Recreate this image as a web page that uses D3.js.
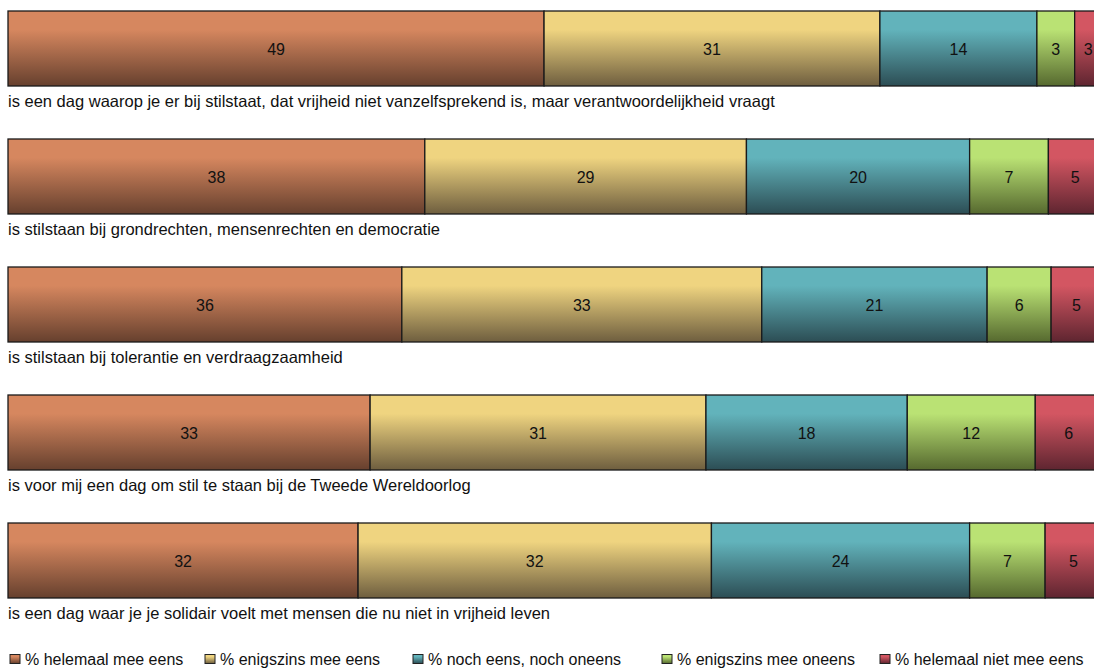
<!DOCTYPE html>
<html><head><meta charset="utf-8">
<script src="https://cdn.jsdelivr.net/npm/d3@7/dist/d3.min.js"></script>
<style>body{margin:0;background:#fff;overflow:hidden}svg{display:block}text{font-family:"Liberation Sans",Arial,sans-serif}</style>
</head><body>
<svg id="c" width="1094" height="668"></svg>
<script>
const categories = [
  "is een dag waarop je er bij stilstaat, dat vrijheid niet vanzelfsprekend is, maar verantwoordelijkheid vraagt",
  "is stilstaan bij grondrechten, mensenrechten en democratie",
  "is stilstaan bij tolerantie en verdraagzaamheid",
  "is voor mij een dag om stil te staan bij de Tweede Wereldoorlog",
  "is een dag waar je je solidair voelt met mensen die nu niet in vrijheid leven"
];
const seriesNames = ["% helemaal mee eens","% enigszins mee eens","% noch eens, noch oneens","% enigszins mee oneens","% helemaal niet mee eens"];
const helemaalMeeEens   = [49.0, 38.1, 36.0, 33.1, 32.0];
const enigszinsMeeEens  = [30.7, 29.4, 32.9, 30.7, 32.3];
const nochEensNochOneens= [14.35, 20.4, 20.6, 18.4, 23.6];
const enigszinsOneens   = [3.45, 7.2, 5.85, 11.7, 6.9];
const helemaalNietEens  = [2.5, 4.9, 4.65, 6.1, 5.2];
const seriesValues = [helemaalMeeEens, enigszinsMeeEens, nochEensNochOneens, enigszinsOneens, helemaalNietEens];
const colorsTop = ["#d6875f","#efd480","#62b3bb","#bae274","#d35662"];
const colorsBottom = ["#66402e","#6e5e3f","#2c4d54","#56692f","#5e2530"];

const svg = d3.select("#c");
const defs = svg.append("defs");
colorsTop.forEach((c,i)=>{
  const g = defs.append("linearGradient").attr("id","g"+i).attr("x1",0).attr("y1",0).attr("x2",0).attr("y2",1);
  g.append("stop").attr("offset","0%").attr("stop-color",c);
  g.append("stop").attr("offset","25%").attr("stop-color",c);
  g.append("stop").attr("offset","100%").attr("stop-color",colorsBottom[i]);
});

const x = d3.scaleLinear().domain([0,100]).range([8,1102]);
const bh = 75;
const step = 128;
const yTop = i => 11 + i*step;

const rows = categories.map((c,i)=>{
  let acc = 0;
  return seriesValues.map((s,k)=>{ const d={k, v:s[i], x0:acc, x1:acc+s[i]}; acc+=s[i]; return d; });
});

rows.forEach((row,i)=>{
  const g = svg.append("g").attr("transform",`translate(0,${yTop(i)})`);
  g.selectAll("rect").data(row).join("rect")
    .attr("x",d=>x(d.x0)).attr("y",0)
    .attr("width",d=>x(d.x1)-x(d.x0)).attr("height",bh)
    .attr("fill",d=>`url(#g${d.k})`)
    .attr("stroke","#1a1a1a").attr("stroke-width",1.3);
  g.selectAll("text.v").data(row).join("text").attr("class","v")
    .attr("x",d=>(x(d.x0)+x(d.x1))/2).attr("y",bh/2+6)
    .attr("text-anchor","middle").attr("font-size",16).attr("fill","#111")
    .text(d=>d3.format(".0f")(d.v));
  svg.append("text").attr("x",8).attr("y",yTop(i)+bh+21)
    .attr("font-size",16.5).attr("fill","#111").text(categories[i]);
});

// legend (layout positions of the items)
const legendX = [10, 205, 413, 662, 880];
seriesNames.forEach((n,k)=>{
  const lx = legendX[k];
  svg.append("rect").attr("x",lx).attr("y",654.5).attr("width",10).attr("height",9)
    .attr("fill",`url(#g${k})`).attr("stroke","#222").attr("stroke-width",1);
  svg.append("text").attr("x",lx+15).attr("y",665).attr("font-size",16).attr("fill","#111").text(n);
});
</script>
</body></html>
